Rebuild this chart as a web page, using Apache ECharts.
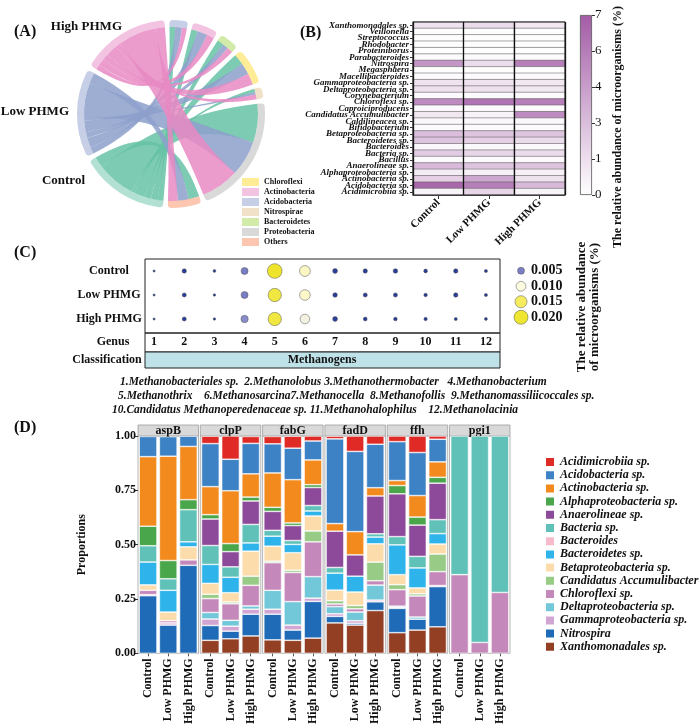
<!DOCTYPE html>
<html><head><meta charset="utf-8">
<script src="https://cdn.jsdelivr.net/npm/echarts@6/dist/echarts.min.js"></script>
<style>html,body{margin:0;padding:0;background:#fff}#c{width:700px;height:727px}</style>
</head><body><div id="c"></div>
<script>
const FONT = "'Liberation Serif','Times New Roman',serif";

// ---------- Panel A : chord ----------
const chordPhyla = ['Acidobacteria','Actinobacteria','Bacteroidetes','Chloroflexi','Nitrospirae','Proteobacteria','Others'];
const chordSamples = ['Control','Low PHMG','High PHMG'];
const chordLegendOrder = ['Chloroflexi','Actinobacteria','Acidobacteria','Nitrospirae','Bacteroidetes','Proteobacteria','Others'];
const chordControl = [7, 8, 8, 13, 4, 47, 13];
const chordLow     = [8, 12, 7, 14, 3, 43, 13];
const chordHigh    = [6, 9, 7, 14, 6, 46, 12];

// ---------- Panel B : heatmap ----------
const heatSamples = ['Control','Low PHMG','High PHMG'];
const heatTaxa = ['Xanthomonadales sp.','Veillonella','Streptococcus','Rhodobacter','Proteiniborus','Parabacteroides','Nitrospira','Megasphaera','Macellibacteroides','Gammaproteobacteria sp.','Deltaproteobacteria sp.','Corynebacterium','Chloroflexi sp.','Caproiciproducens','Candidatus Accumulibacter','Caldilineacea sp.','Bifidobacterium','Betaproteobacteria sp.','Bacteroidetes sp.','Bacteroides','Bacteria sp.','Bacillus','Anaerolineae sp.','Alphaproteobacteria sp.','Actinobacteria sp.','Acidobacteria sp.','Acidimicrobiia sp.'];
const heatControl = [1.2,0.1,0.1,0.1,0.1,0.2,4.5,0.1,0.2,1.2,1.3,0.2,5.0,0.2,1.0,0.3,0.2,2.8,2.5,0.3,2.2,0.2,3.0,0.8,2.0,6.5,0.5];
const heatLow     = [1.5,0.1,0.1,0.1,0.1,0.2,1.5,0.1,0.2,1.2,1.3,0.2,6.0,0.2,0.5,0.3,0.2,2.5,2.0,0.3,1.8,0.2,2.5,0.6,3.8,5.5,1.8];
const heatHigh    = [1.0,0.1,0.1,0.1,0.1,0.2,5.5,0.1,0.2,1.0,1.0,0.2,5.5,0.2,5.0,0.3,0.2,2.5,1.5,0.3,1.5,0.2,2.5,0.6,1.2,3.0,0.5];
const colorbarMax = 7;
const colorbarTitle = 'The relative abundance of microorganisms (%)';

// ---------- Panel C : bubbles ----------
const genusNumbers = ['1','2','3','4','5','6','7','8','9','10','11','12'];
const bubbleGroups = ['Control','Low PHMG','High PHMG'];
const bubbleControl = [0.0005,0.002,0.0008,0.005,0.022,0.012,0.0025,0.002,0.0022,0.0015,0.002,0.001];
const bubbleLow     = [0.0005,0.0018,0.0006,0.005,0.018,0.0115,0.0022,0.0018,0.0018,0.0013,0.002,0.001];
const bubbleHigh    = [0.0005,0.0018,0.0006,0.0055,0.018,0.0095,0.0025,0.0015,0.0014,0.0012,0.001,0.0009];
const bubbleLegendValues = [0.005, 0.010, 0.015, 0.020];
const genusNames = ['Methanobacteriales sp.','Methanolobus','Methanothermobacter','Methanobacterium','Methanothrix','Methanosarcina','Methanocella','Methanofollis','Methanomassiliicoccales sp.','Candidatus Methanoperedenaceae sp.','Methanohalophilus','Methanolacinia'];
const classificationName = 'Methanogens';

// ---------- Panel D : stacked proportions ----------
const genes = ['aspB','clpP','fabG','fadD','ffh','pgi1'];
const treatments = ['Control','Low PHMG','High PHMG'];
const species = ['Acidimicrobiia sp.','Acidobacteria sp.','Actinobacteria sp.','Alphaproteobacteria sp.','Anaerolineae sp.','Bacteria sp.','Bacteroides','Bacteroidetes sp.','Betaproteobacteria sp.','Candidatus Accumulibacter','Chloroflexi sp.','Deltaproteobacteria sp.','Gammaproteobacteria sp.','Nitrospira','Xanthomonadales sp.'];
// 18 values each: aspB(C,L,H), clpP(C,L,H), fabG, fadD, ffh, pgi1
const pAcidimicrobiia = [0,0,0, .034,.107,.032, .034,.055,.023, .012,.071,.038, .026,.076,.015, 0,0,0];
const pAcidobacteria  = [.093,.09,.047, .198,.145,.14, .134,.145,.087, .39,.369,.20, .179,.198,.104, 0,0,0];
const pActinobacteria = [.32,.48,.245, .129,.243,.107, .158,.199,.114, .035,.107,.038, .023,.099,.071, 0,0,0];
const pAlphaproteo    = [.09,.084,.046, .02,.037,.018, .019,.012,.013, 0,0,0, .038,.037,.027, 0,0,0];
const pAnaerolineae   = [0,0,0, .122,.07,.108, .087,.069,.083, .167,.098,.174, .197,.144,.168, 0,0,0];
const pBacteria       = [.075,.053,.148, .087,.048,.085, .027,.018,.025, .026,0,.015, .038,.053,.064, .638,.95,.72];
const pBacteroides    = [0,0,0, 0,0,0, 0,0,0, 0,0,0, 0,0,0, 0,0,0];
const pBacteroidetes  = [.105,.10,.023, .087,.071,.038, .046,.038,.023, .078,.073,.031, .137,.092,.048, 0,0,0];
const pBetaproteo     = [.025,.04,.06, .05,.043,.115, .069,.081,.069, .049,.062,.084, .046,.027,.046, 0,0,0];
const pCandidatus     = [0,0,0, .02,.008,.042, .007,.01,.05, .015,.015,.086, .023,.01,.081, 0,0,0];
const pChloroflexi    = [.02,.01,.025, .064,.076,.095, .127,.134,.16, .012,.015,.02, .076,.097,.064, .362,.05,.28];
const pDeltaproteo    = [0,0,0, .03,.027,.015, .087,.108,.099, .033,.04,.069, .005,.01,0, 0,0,0];
const pGammaproteo    = [.005,.01,0, .03,.023,.023, .023,.023,.015, .012,.012,.008, .005,0,.005, 0,0,0];
const pNitrospira     = [.265,.13,.405, .068,.035,.1, .118,.047,.169, .03,.008,.04, .112,.05,.185, 0,0,0];
const pXanthomonadales= [0,0,0, .06,.067,.08, .062,.06,.07, .14,.13,.197, .095,.107,.122, 0,0,0];
const speciesValues = [pAcidimicrobiia,pAcidobacteria,pActinobacteria,pAlphaproteo,pAnaerolineae,pBacteria,pBacteroides,pBacteroidetes,pBetaproteo,pCandidatus,pChloroflexi,pDeltaproteo,pGammaproteo,pNitrospira,pXanthomonadales];

// ---------- styles ----------
const nodeColors = {'Control':'#66c2a5','Low PHMG':'#8da0cb','High PHMG':'#e78ac3',
  'Chloroflexi':'#ffd92f','Actinobacteria':'#e78ac3','Acidobacteria':'#8da0cb','Nitrospirae':'#e5c494',
  'Bacteroidetes':'#a6d854','Proteobacteria':'#b3b3b3','Others':'#fc8d62'};
const speciesColors = ['#e02a26','#3d82c5','#f28a1e','#4aa64a','#8e4a9a','#5fc1b8','#f7bccb','#2eb3ea','#fddcab','#98cb86','#c588ba','#72c8d8','#d2a6d2','#1f6bb7','#923f24'];
const bubbleColors = ['#1a3590','#2c3f9a','#7a7ec4','#c9c9e6','#fdfce0','#fbf6bb','#f4ec5e','#f0e844','#eee630','#ede42a','#ece225'];

// ---------- build ----------
const chordNodes = [...chordPhyla, ...chordSamples];
const chordMatrix = [chordControl, chordLow, chordHigh];
const chordLinks = [];
chordSamples.forEach((s, i) => chordPhyla.forEach((p, j) => {
  chordLinks.push({source: s, target: p, value: chordMatrix[i][j]});
}));

const heatData = [];
[heatControl, heatLow, heatHigh].forEach((arr, i) => arr.forEach((v, j) => heatData.push([i, j, v])));

const bubbleData = [];
[bubbleControl, bubbleLow, bubbleHigh].forEach((arr, i) => arr.forEach((v, j) => bubbleData.push([j, i, v])));
const bubbleSize = v => Math.sqrt(v / 0.02) * 14;

const grids = [
  {left: 413, top: 22, width: 152, height: 173},                 // 0 heatmap
  {left: 413, top: 22, width: 152, height: 173},                 // 1 overlay lines
  {left: 580, top: 15, width: 12, height: 180},                  // 2 colorbar
  {left: 139, top: 259, width: 362, height: 72},                 // 3 bubbles
  {left: 511, top: 263, width: 20, height: 62}                   // 4 bubble legend
];
const boldLbl = {fontFamily: FONT, fontWeight: 'bold', color: '#111'};
const xAxes = [
  {gridIndex: 0, type: 'category', data: heatSamples,
    axisLine: {show: true, lineStyle: {color: '#333'}}, axisTick: {show: true, alignWithLabel: true, length: 4, lineStyle: {color: '#333'}},
    axisLabel: Object.assign({rotate: 45, interval: 0, fontSize: 11, margin: 6}, boldLbl)},
  {gridIndex: 1, type: 'category', data: heatSamples, z: 6, axisLine: {show: false}, axisTick: {show: false, interval: 0}, axisLabel: {show: false},
    splitLine: {show: true, interval: 0, lineStyle: {color: '#111', width: 1.3}}},
  {gridIndex: 2, type: 'category', data: ['cb'], show: false},
  {gridIndex: 3, type: 'category', data: genusNumbers, axisLine: {show: false}, axisTick: {show: false},
    axisLabel: Object.assign({fontSize: 12, margin: 5, interval: 0}, boldLbl)},
  {gridIndex: 4, type: 'category', data: ['k'], show: false}
];
const yAxes = [
  {gridIndex: 0, type: 'category', data: heatTaxa, inverse: true,
    axisLine: {show: true, lineStyle: {color: '#333'}}, axisTick: {show: true, alignWithLabel: true, length: 3, lineStyle: {color: '#333'}},
    axisLabel: Object.assign({fontSize: 9, fontStyle: 'italic', interval: 0, margin: 4}, boldLbl)},
  {gridIndex: 1, type: 'category', data: heatTaxa, show: false},
  {gridIndex: 2, type: 'value', min: 0, max: colorbarMax, interval: 1.4, position: 'right',
    axisLine: {show: false}, splitLine: {show: false},
    axisTick: {show: true, length: 3, lineStyle: {color: '#333'}},
    axisLabel: {fontFamily: FONT, fontSize: 13, color: '#111', margin: 3, formatter: v => String(Math.round(v))}},
  {gridIndex: 3, type: 'category', data: bubbleGroups, inverse: true, axisLine: {show: false}, axisTick: {show: false},
    axisLabel: Object.assign({fontSize: 12, align: 'center', margin: 30, interval: 0}, boldLbl)},
  {gridIndex: 4, type: 'category', data: bubbleLegendValues.map(v => v.toFixed(3)), inverse: true, position: 'right',
    axisLine: {show: false}, axisTick: {show: false}, axisLabel: Object.assign({fontSize: 14, margin: 0, align: 'left', interval: 0}, boldLbl)}
];

const series = [
  {type: 'chord', center: [171, 114], radius: [87, 94], startAngle: 91, clockwise: true, padAngle: 3,
    label: {show: false}, lineStyle: {color: 'source', opacity: 0.85},
    data: chordNodes.map(n => ({name: n, itemStyle: {color: nodeColors[n], opacity: 0.5}})),
    links: chordLinks, emphasis: {disabled: true}},
  {type: 'heatmap', xAxisIndex: 0, yAxisIndex: 0, data: heatData,
    itemStyle: {borderColor: '#555', borderWidth: 0.5}, emphasis: {disabled: true}},
  {type: 'bar', xAxisIndex: 2, yAxisIndex: 2, data: [colorbarMax], barWidth: '100%',
    itemStyle: {color: new echarts.graphic.LinearGradient(0, 0, 0, 1, [{offset: 0, color: '#a35ca6'}, {offset: 1, color: '#ffffff'}]),
      borderColor: '#555', borderWidth: 0.8}},
  {type: 'scatter', xAxisIndex: 3, yAxisIndex: 3, data: bubbleData, symbolSize: d => bubbleSize(d[2]),
    itemStyle: {borderColor: '#555', borderWidth: 0.5, opacity: 1}},
  {type: 'scatter', xAxisIndex: 4, yAxisIndex: 4, data: bubbleLegendValues.map((v, i) => [0, i, v]), symbolSize: d => bubbleSize(d[2]),
    itemStyle: {borderColor: '#555', borderWidth: 0.5, opacity: 1}}
];

const graphics = [];
const txt = (text, x, y, font, align, extra) => Object.assign({type: 'text', x, y, silent: true,
  style: {text, font, fill: '#111', align: align || 'left', textAlign: align || 'left', verticalAlign: 'middle', textVerticalAlign: 'middle'}}, extra || {});

genes.forEach((g, k) => {
  const gi = 5 + k;
  const left = 138 + k * 62.3;
  grids.push({left, top: 436, width: 60.5, height: 218.5, show: true, borderColor: '#b5b5b5', borderWidth: 1});
  xAxes.push({gridIndex: gi, type: 'category', data: treatments, axisLine: {show: false},
    axisTick: {show: true, alignWithLabel: true, length: 3, lineStyle: {color: '#555'}},
    axisLabel: Object.assign({rotate: 90, interval: 0, fontSize: 12, margin: 5}, boldLbl)});
  yAxes.push({gridIndex: gi, type: 'value', min: 0, max: 1, interval: 0.25, show: k === 0,
    axisLine: {show: false}, splitLine: {show: false},
    axisTick: {show: true, length: 3, lineStyle: {color: '#333'}},
    axisLabel: Object.assign({fontSize: 12, margin: 2, formatter: v => v.toFixed(2)}, boldLbl),
    name: k === 0 ? 'Proportions' : '', nameLocation: 'middle', nameGap: 50,
    nameTextStyle: {fontFamily: FONT, fontSize: 12, fontWeight: 'bold', color: '#111'}});
  for (let s = species.length - 1; s >= 0; s--) {
    series.push({type: 'bar', name: species[s], xAxisIndex: gi, yAxisIndex: gi, stack: 'D' + k,
      barCategoryGap: '12%',
      data: speciesValues[s].slice(3 * k, 3 * k + 3).map(v => v > 0 ? v : '-'),
      itemStyle: {color: speciesColors[s], borderColor: '#fff', borderWidth: 0.6},
      emphasis: {disabled: true}});
  }
  graphics.push({type: 'rect', silent: true, shape: {x: left, y: 425, width: 60.5, height: 11},
    style: {fill: '#d9d9d9', stroke: '#a0a0a0', lineWidth: 0.8}});
  graphics.push(txt(g, left + 30.25, 430.5, `bold 12px ${FONT}`, 'center'));
});

// heatmap frame
graphics.push({type: 'rect', silent: true, z: 100, shape: {x: 413, y: 22, width: 152, height: 173}, style: {fill: 'none', stroke: '#222', lineWidth: 1}});
// panel labels
graphics.push(txt('(A)', 14, 32, `bold 16px ${FONT}`));
graphics.push(txt('(B)', 300, 33, `bold 16px ${FONT}`));
graphics.push(txt('(C)', 14, 253, `bold 16px ${FONT}`));
graphics.push(txt('(D)', 14, 428, `bold 16px ${FONT}`));
// A sample labels
graphics.push(txt(chordSamples[2], 122, 27, `bold 13px ${FONT}`, 'right'));
graphics.push(txt(chordSamples[1], 69, 112, `bold 13px ${FONT}`, 'right'));
graphics.push(txt(chordSamples[0], 85, 181, `bold 13px ${FONT}`, 'right'));
// B colorbar title
graphics.push(txt(colorbarTitle, 618, 127, `bold 12px ${FONT}`, 'center', {rotation: Math.PI / 2}));
// C frames
graphics.push({type: 'rect', silent: true, shape: {x: 145, y: 259, width: 355, height: 74}, style: {fill: 'none', stroke: '#222', lineWidth: 1}});
graphics.push({type: 'rect', silent: true, shape: {x: 145, y: 333, width: 355, height: 19}, style: {fill: 'none', stroke: '#222', lineWidth: 1}});
graphics.push({type: 'rect', silent: true, shape: {x: 145, y: 352, width: 355, height: 16}, style: {fill: '#bfe2e8', stroke: '#222', lineWidth: 1}});
graphics.push(txt(classificationName, 322, 360, `bold 12px ${FONT}`, 'center'));
graphics.push(txt('Genus', 113, 342, `bold 12px ${FONT}`, 'center'));
graphics.push(txt('Classification', 107, 360, `bold 12px ${FONT}`, 'center'));
graphics.push(txt('The relative abundance\nof microorganisms (%)', 588, 307, `bold 13px ${FONT}`, 'center', {rotation: Math.PI / 2}));
// genus name lines
const gn = i => `${i + 1}.${genusNames[i]}`;
graphics.push(txt(`${gn(0)}  ${gn(1)} ${gn(2)}   ${gn(3)}`, 120, 382, `italic bold 11.5px ${FONT}`));
graphics.push(txt(`${gn(4)}    ${gn(5)}${gn(6)}  ${gn(7)}  ${gn(8)}`, 118, 396, `italic bold 11.5px ${FONT}`));
graphics.push(txt(`${gn(9)} ${gn(10)}    ${gn(11)}`, 112, 410, `italic bold 11.5px ${FONT}`));

const option = {
  animation: false,
  backgroundColor: '#fff',
  grid: grids, xAxis: xAxes, yAxis: yAxes, series,
  visualMap: [
    {type: 'continuous', show: false, seriesIndex: 1, dimension: 2, min: 0, max: colorbarMax, inRange: {color: ['#ffffff', '#a35ca6']}},
    {type: 'continuous', show: false, seriesIndex: [3, 4], dimension: 2, min: 0, max: 0.025, inRange: {color: bubbleColors}}
  ],
  legend: [
    {data: chordLegendOrder, orient: 'vertical', left: 242, top: 178, itemWidth: 17, itemHeight: 8, itemGap: 2, icon: 'rect',
      padding: 0, selectedMode: false, textStyle: {fontFamily: FONT, fontSize: 8, fontWeight: 'bold', color: '#111', lineHeight: 8}},
    {data: species, orient: 'vertical', left: 544, top: 456, itemWidth: 10, itemHeight: 10, itemGap: 1.2, icon: 'rect',
      padding: 0, selectedMode: false, textStyle: {fontFamily: FONT, fontSize: 12, fontStyle: 'italic', fontWeight: 'bold', color: '#111', lineHeight: 10}}
  ],
  graphic: graphics
};
const chart = echarts.init(document.getElementById('c'));
chart.setOption(option);
</script></body></html>
